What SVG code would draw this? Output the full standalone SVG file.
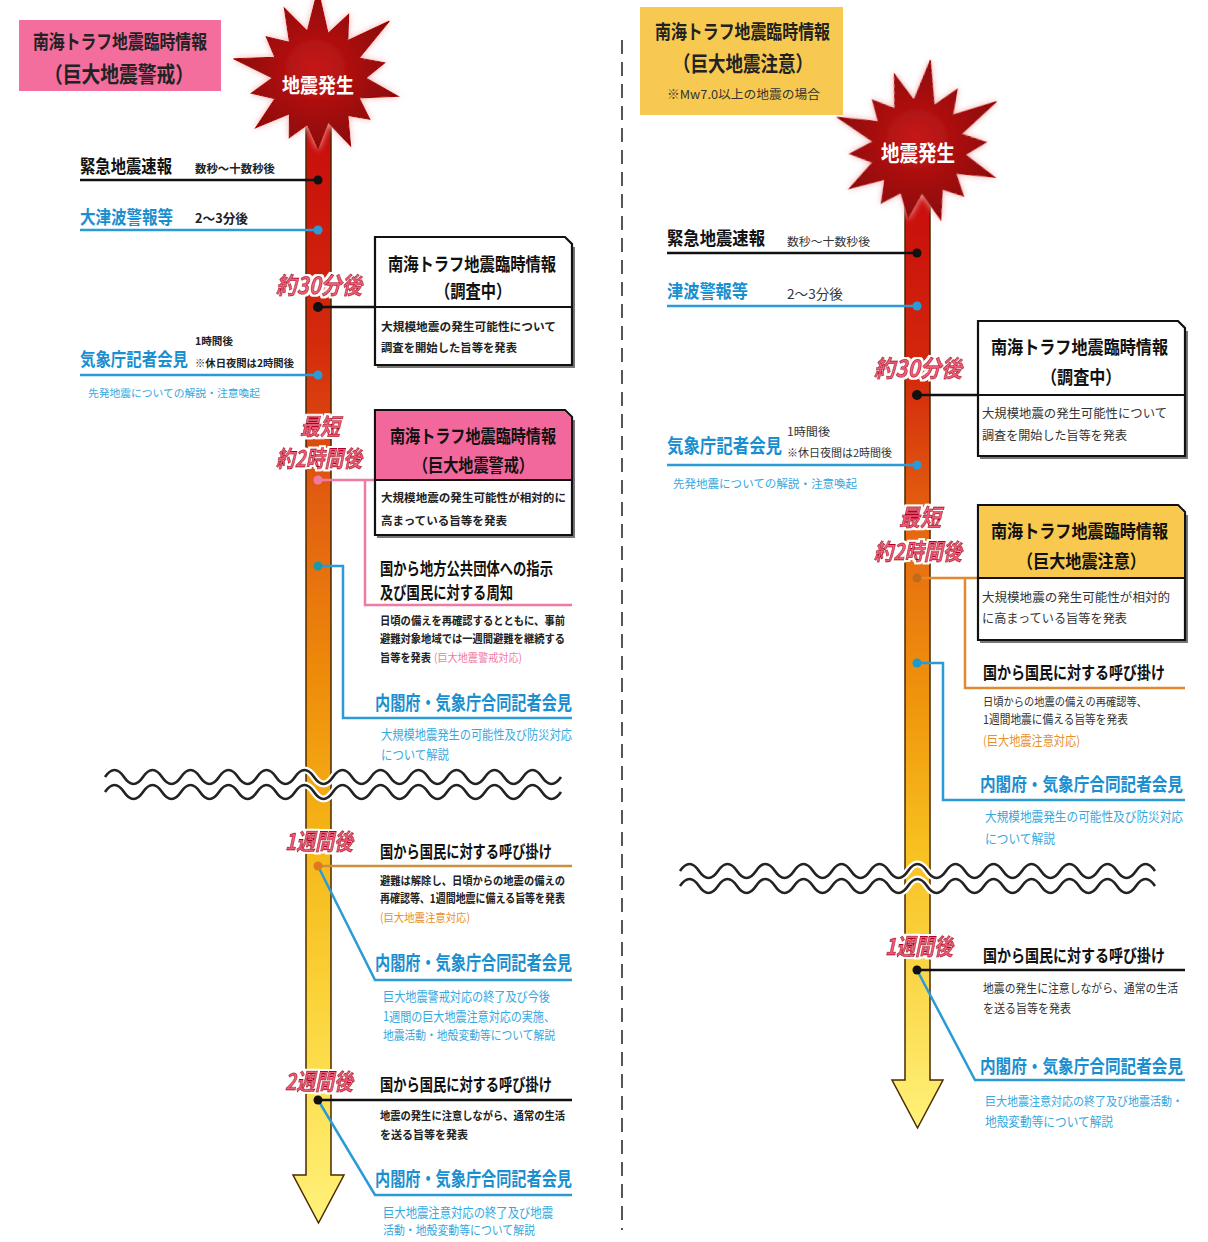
<svg xmlns="http://www.w3.org/2000/svg" width="1208" height="1242" viewBox="0 0 1208 1242">
<style>
text{font-family:"Noto Sans CJK JP","Noto Sans CJK SC",sans-serif;dominant-baseline:central;}
.b{font-weight:bold;}
.big{font-weight:bold;fill:#111;}
.blu{font-weight:bold;fill:#1a8fd0;}
.sm{font-weight:bold;fill:#222;}
.body{font-weight:bold;fill:#222;}
.bodyr{fill:#333;}
.desc{fill:#35a8e0;}
.t{font-weight:bold;font-style:italic;fill:#f05c78;stroke:#b0002a;stroke-width:.7;filter:url(#halo);}
.ln{fill:none;stroke-width:2.5;}
.k{stroke:#111;} .bl{stroke:#2a9bd6;} .pk{stroke:#f07aa5;} .or{stroke:#e0892e;} .br{stroke:#c8903e;}
.box{fill:#fff;stroke:#111;stroke-width:2.2;}
.wave{fill:none;stroke:#222;stroke-width:2.6;}
.waveh{fill:none;stroke:#fff;stroke-width:7;}
</style>
<defs>
<linearGradient id="gL" gradientUnits="userSpaceOnUse" x1="0" y1="120" x2="0" y2="1223">
<stop offset="0" stop-color="#c80c0c"/><stop offset="0.2" stop-color="#d42a0c"/><stop offset="0.35" stop-color="#e26010"/><stop offset="0.5" stop-color="#ee8a0a"/><stop offset="0.65" stop-color="#f5b516"/><stop offset="0.8" stop-color="#fbd43a"/><stop offset="1" stop-color="#fff27a"/>
</linearGradient>
<linearGradient id="gR" gradientUnits="userSpaceOnUse" x1="0" y1="190" x2="0" y2="1128">
<stop offset="0" stop-color="#c80c0c"/><stop offset="0.2" stop-color="#d42a0c"/><stop offset="0.37" stop-color="#e66a10"/><stop offset="0.55" stop-color="#f0960c"/><stop offset="0.7" stop-color="#f7c020"/><stop offset="0.85" stop-color="#fbd84a"/><stop offset="1" stop-color="#fff27a"/>
</linearGradient>
<radialGradient id="gB"><stop offset="0" stop-color="#c81818"/><stop offset="1" stop-color="#8a0606"/></radialGradient>
<filter id="halo" x="-20%" y="-30%" width="140%" height="160%">
<feMorphology in="SourceAlpha" operator="dilate" radius="1.6" result="d"/>
<feFlood flood-color="#fff"/><feComposite in2="d" operator="in" result="w"/>
<feMerge><feMergeNode in="w"/><feMergeNode in="SourceGraphic"/></feMerge>
</filter>
<filter id="glow" x="-20%" y="-20%" width="140%" height="140%">
<feGaussianBlur in="SourceAlpha" stdDeviation="3" result="bl"/>
<feFlood flood-color="#f4b0b0"/><feComposite in2="bl" operator="in" result="g"/>
<feMerge><feMergeNode in="g"/><feMergeNode in="SourceGraphic"/></feMerge>
</filter>
<path id="burst" d="M0,-78 L8.9,-39 L26.9,-55.9 L26.2,-32.8 L62.6,-49.9 L36,-17.4 L58.5,-13.4 L42,0 L70.2,16.1 L36,17.4 L45.4,36.2 L26.2,32.8 L28.6,59.5 L8.9,39 L0,62 L-9.4,41 L-25.2,52.3 L-25,31.3 L-54.7,43.7 L-37.8,18.2 L-58.5,13.4 L-40,0 L-74.1,-16.9 L-37.8,-18.2 L-45.4,-36.2 L-25,-31.3 L-29.5,-61.3 L-9.4,-41 Z"/>
</defs>
<rect width="1208" height="1242" fill="#fff"/>

<line x1="622" y1="40" x2="622" y2="1230" stroke="#555" stroke-width="2" stroke-dasharray="14 8"/>

<!-- ===== LEFT PANEL ===== -->
<g id="left-title">
<rect x="19" y="20" width="202" height="71" fill="#f36d9d"/>
<text class="b" x="33" y="40" font-size="15.8" fill="#222" textLength="174" lengthAdjust="spacingAndGlyphs" transform="translate(0,40) scale(1,1.25) translate(0,-40)">南海トラフ地震臨時情報</text>
<text class="b" x="44" y="72" font-size="18.7" fill="#222" textLength="150" lengthAdjust="spacingAndGlyphs" transform="translate(0,72) scale(1,1.17) translate(0,-72)">（巨大地震警戒）</text>
</g>
<g id="left-timeline">
<path d="M306,120 H331 V1175 H344 L318.5,1223 L293,1175 H306 Z" fill="url(#gL)" stroke="#4a2a00" stroke-width="1.5"/>
</g>
<g id="left-quake">
<use href="#burst" transform="translate(318,78) scale(1.14)" fill="url(#gB)" stroke="#a00" stroke-width="1" filter="url(#glow)"/>
<text class="b" x="318" y="84" font-size="18" fill="#fff" text-anchor="middle" textLength="72" lengthAdjust="spacingAndGlyphs" transform="translate(0,84) scale(1,1.15) translate(0,-84)">地震発生</text>
</g>
<g id="left-waves">
<path class="waveh" d="M105,777 q9.5,-14 19,0 t19,0 t19,0 t19,0 t19,0 t19,0 t19,0 t19,0 t19,0 t19,0 t19,0 t19,0 t19,0 t19,0 t19,0 t19,0 t19,0 t19,0 t19,0 t19,0 t19,0 t19,0 t19,0 t19,0"/>
<path class="waveh" d="M105,792 q9.5,-14 19,0 t19,0 t19,0 t19,0 t19,0 t19,0 t19,0 t19,0 t19,0 t19,0 t19,0 t19,0 t19,0 t19,0 t19,0 t19,0 t19,0 t19,0 t19,0 t19,0 t19,0 t19,0 t19,0 t19,0"/>
<path class="wave" d="M105,777 q9.5,-14 19,0 t19,0 t19,0 t19,0 t19,0 t19,0 t19,0 t19,0 t19,0 t19,0 t19,0 t19,0 t19,0 t19,0 t19,0 t19,0 t19,0 t19,0 t19,0 t19,0 t19,0 t19,0 t19,0 t19,0"/>
<path class="wave" d="M105,792 q9.5,-14 19,0 t19,0 t19,0 t19,0 t19,0 t19,0 t19,0 t19,0 t19,0 t19,0 t19,0 t19,0 t19,0 t19,0 t19,0 t19,0 t19,0 t19,0 t19,0 t19,0 t19,0 t19,0 t19,0 t19,0"/>
</g>

<g id="left-connectors">
<path class="ln k" d="M80,180 H318"/>
<path class="ln bl" d="M80,230 H318"/>
<path class="ln k" d="M318,307 H375" stroke-width="3.5"/>
<path class="ln bl" d="M80,375 H318"/>
<path class="ln pk" d="M318,480 H375 M365,480 V605 H572"/>
<path class="ln bl" d="M318,566 H343 V718 H572"/>
<path class="ln br" d="M318,866 H572"/>
<path class="ln bl" d="M318,866 L375,980 H572" stroke-width="2"/>
<path class="ln k" d="M318,1100 H572"/>
<path class="ln bl" d="M318,1100 L375,1195 H572" stroke-width="2"/>
<circle cx="318" cy="180" r="4.5" fill="#111"/>
<circle cx="318" cy="230" r="4.5" fill="#2a9bd6"/>
<circle cx="318" cy="307" r="5" fill="#111"/>
<circle cx="318" cy="375" r="4.5" fill="#2a9bd6"/>
<circle cx="318" cy="480" r="4.5" fill="#f07aa5"/>
<circle cx="318" cy="566" r="4.5" fill="#1a9aa8"/>
<circle cx="318" cy="866" r="4.5" fill="#e07820"/>
<circle cx="318" cy="1100" r="4.5" fill="#111"/>
</g>

<g id="left-eew">
<text class="big" x="80" y="165" font-size="15.3" textLength="92" lengthAdjust="spacingAndGlyphs" transform="translate(0,165) scale(1,1.2) translate(0,-165)">緊急地震速報</text>
<text class="sm" x="195" y="168" font-size="11.4" textLength="80" lengthAdjust="spacingAndGlyphs">数秒～十数秒後</text>
</g>
<g id="left-tsunami">
<text class="blu" x="80" y="216" font-size="15.5" textLength="93" lengthAdjust="spacingAndGlyphs" transform="translate(0,216) scale(1,1.2) translate(0,-216)">大津波警報等</text>
<text class="sm" x="195" y="217" font-size="13" textLength="53" lengthAdjust="spacingAndGlyphs">2～3分後</text>
</g>
<g id="left-t30"><text class="t" x="319" y="283" font-size="21" text-anchor="middle" textLength="86" lengthAdjust="spacingAndGlyphs" transform="translate(0,283) scale(1,1.12) translate(0,-283)">約30分後</text></g>
<g id="left-box-survey">
<path d="M377,367 H574 V247" fill="none" stroke="#777" stroke-width="2"/>
<path class="box" d="M375,237 H565 L572,244 V365 H375 Z"/>
<line x1="375" y1="307" x2="572" y2="307" stroke="#111" stroke-width="2"/>
<text class="big" x="388" y="263" font-size="15.3" textLength="168" lengthAdjust="spacingAndGlyphs" transform="translate(0,263) scale(1,1.2) translate(0,-263)">南海トラフ地震臨時情報</text>
<text class="big" x="435" y="290" font-size="15.3" transform="translate(0,290) scale(1,1.2) translate(0,-290)">（調査中）</text>
<text class="body" x="381" y="325" font-size="11.7" textLength="175" lengthAdjust="spacingAndGlyphs">大規模地震の発生可能性について</text>
<text class="body" x="381" y="346" font-size="11.7" textLength="136" lengthAdjust="spacingAndGlyphs">調査を開始した旨等を発表</text>
</g>
<g id="left-jma">
<text class="blu" x="80" y="358" font-size="15.4" textLength="108" lengthAdjust="spacingAndGlyphs" transform="translate(0,358) scale(1,1.2) translate(0,-358)">気象庁記者会見</text>
<text class="sm" x="195" y="340" font-size="10.7" textLength="38" lengthAdjust="spacingAndGlyphs">1時間後</text>
<text class="sm" x="195" y="362" font-size="10.4" textLength="99" lengthAdjust="spacingAndGlyphs">※休日夜間は2時間後</text>
<text class="desc" x="88" y="392" font-size="10.75" textLength="172" lengthAdjust="spacingAndGlyphs">先発地震についての解説・注意喚起</text>
</g>
<g id="left-t2h">
<text class="t" x="320" y="425" font-size="20" text-anchor="middle" textLength="40" lengthAdjust="spacingAndGlyphs" transform="translate(0,425) scale(1,1.15) translate(0,-425)">最短</text>
<text class="t" x="319" y="457" font-size="19" text-anchor="middle" textLength="86" lengthAdjust="spacingAndGlyphs" transform="translate(0,457) scale(1,1.2) translate(0,-457)">約2時間後</text>
</g>
<g id="left-box-warning">
<path d="M377,537 H574 V420" fill="none" stroke="#777" stroke-width="2"/>
<path class="box" d="M375,410 H565 L572,417 V535 H375 Z"/>
<path d="M376,411 H564.5 L571,417.5 V480 H376 Z" fill="#f2689c"/>
<line x1="375" y1="480" x2="572" y2="480" stroke="#111" stroke-width="2"/>
<text class="big" x="390" y="435" font-size="15.1" textLength="166" lengthAdjust="spacingAndGlyphs" transform="translate(0,435) scale(1,1.2) translate(0,-435)">南海トラフ地震臨時情報</text>
<text class="big" x="413" y="464" font-size="15.1" textLength="121" lengthAdjust="spacingAndGlyphs" transform="translate(0,464) scale(1,1.2) translate(0,-464)">（巨大地震警戒）</text>
<text class="body" x="381" y="497" font-size="11.5" textLength="185" lengthAdjust="spacingAndGlyphs">大規模地震の発生可能性が相対的に</text>
<text class="body" x="381" y="520" font-size="11.5" textLength="126" lengthAdjust="spacingAndGlyphs">高まっている旨等を発表</text>
</g>
<g id="left-directive">
<text class="big" x="380" y="567" font-size="13.3" textLength="173" lengthAdjust="spacingAndGlyphs" transform="translate(0,567) scale(1,1.28) translate(0,-567)">国から地方公共団体への指示</text>
<text class="big" x="380" y="591" font-size="13.3" textLength="133" lengthAdjust="spacingAndGlyphs" transform="translate(0,591) scale(1,1.28) translate(0,-591)">及び国民に対する周知</text>
<text class="body" x="380" y="620" font-size="10.3" textLength="185" lengthAdjust="spacingAndGlyphs" transform="translate(0,620) scale(1,1.15) translate(0,-620)">日頃の備えを再確認するとともに、事前</text>
<text class="body" x="380" y="638" font-size="10.3" textLength="185" lengthAdjust="spacingAndGlyphs" transform="translate(0,638) scale(1,1.15) translate(0,-638)">避難対象地域では一週間避難を継続する</text>
<text class="body" x="380" y="657" font-size="10.3" textLength="51" lengthAdjust="spacingAndGlyphs" transform="translate(0,657) scale(1,1.15) translate(0,-657)">旨等を発表</text>
<text x="434" y="657" font-size="10" fill="#f07aa5" textLength="88" lengthAdjust="spacingAndGlyphs" transform="translate(0,657) scale(1,1.15) translate(0,-657)">(巨大地震警戒対応)</text>
</g>
<g id="left-joint1">
<text class="blu" x="375" y="702" font-size="15.1" textLength="197" lengthAdjust="spacingAndGlyphs" transform="translate(0,702) scale(1,1.25) translate(0,-702)">内閣府・気象庁合同記者会見</text>
<text class="desc" x="381" y="733" font-size="11.2" textLength="191" lengthAdjust="spacingAndGlyphs" transform="translate(0,733) scale(1,1.12) translate(0,-733)">大規模地震発生の可能性及び防災対応</text>
<text class="desc" x="381" y="753" font-size="11.2" textLength="68" lengthAdjust="spacingAndGlyphs" transform="translate(0,753) scale(1,1.12) translate(0,-753)">について解説</text>
</g>
<g id="left-t1w"><text class="t" x="319" y="840" font-size="19" text-anchor="middle" textLength="68" lengthAdjust="spacingAndGlyphs" transform="translate(0,840) scale(1,1.2) translate(0,-840)">1週間後</text></g>
<g id="left-call1">
<text class="big" x="380" y="850" font-size="13.2" textLength="172" lengthAdjust="spacingAndGlyphs" transform="translate(0,850) scale(1,1.28) translate(0,-850)">国から国民に対する呼び掛け</text>
<text class="body" x="380" y="880" font-size="10.3" textLength="185" lengthAdjust="spacingAndGlyphs" transform="translate(0,880) scale(1,1.15) translate(0,-880)">避難は解除し、日頃からの地震の備えの</text>
<text class="body" x="380" y="898" font-size="10.5" textLength="185" lengthAdjust="spacingAndGlyphs" transform="translate(0,898) scale(1,1.15) translate(0,-898)">再確認等、1週間地震に備える旨等を発表</text>
<text x="380" y="917" font-size="10.3" fill="#e8902a" textLength="90" lengthAdjust="spacingAndGlyphs" transform="translate(0,917) scale(1,1.15) translate(0,-917)">(巨大地震注意対応)</text>
</g>
<g id="left-joint2">
<text class="blu" x="375" y="962" font-size="15.1" textLength="197" lengthAdjust="spacingAndGlyphs" transform="translate(0,962) scale(1,1.25) translate(0,-962)">内閣府・気象庁合同記者会見</text>
<text class="desc" x="383" y="995" font-size="11" textLength="167" lengthAdjust="spacingAndGlyphs" transform="translate(0,995) scale(1,1.15) translate(0,-995)">巨大地震警戒対応の終了及び今後</text>
<text class="desc" x="383" y="1015" font-size="11" textLength="172" lengthAdjust="spacingAndGlyphs" transform="translate(0,1015) scale(1,1.15) translate(0,-1015)">1週間の巨大地震注意対応の実施、</text>
<text class="desc" x="383" y="1035" font-size="10.75" textLength="172" lengthAdjust="spacingAndGlyphs" transform="translate(0,1035) scale(1,1.15) translate(0,-1035)">地震活動・地殻変動等について解説</text>
</g>
<g id="left-t2w"><text class="t" x="319" y="1080" font-size="19" text-anchor="middle" textLength="68" lengthAdjust="spacingAndGlyphs" transform="translate(0,1080) scale(1,1.2) translate(0,-1080)">2週間後</text></g>
<g id="left-call2">
<text class="big" x="380" y="1083" font-size="13.2" textLength="172" lengthAdjust="spacingAndGlyphs" transform="translate(0,1083) scale(1,1.28) translate(0,-1083)">国から国民に対する呼び掛け</text>
<text class="body" x="380" y="1115" font-size="10.3" textLength="185" lengthAdjust="spacingAndGlyphs" transform="translate(0,1115) scale(1,1.15) translate(0,-1115)">地震の発生に注意しながら、通常の生活</text>
<text class="body" x="380" y="1134" font-size="10.3" textLength="88" lengthAdjust="spacingAndGlyphs" transform="translate(0,1134) scale(1,1.15) translate(0,-1134)">を送る旨等を発表</text>
</g>
<g id="left-joint3">
<text class="blu" x="375" y="1178" font-size="15.1" textLength="197" lengthAdjust="spacingAndGlyphs" transform="translate(0,1178) scale(1,1.25) translate(0,-1178)">内閣府・気象庁合同記者会見</text>
<text class="desc" x="383" y="1211" font-size="11.3" textLength="170" lengthAdjust="spacingAndGlyphs" transform="translate(0,1211) scale(1,1.12) translate(0,-1211)">巨大地震注意対応の終了及び地震</text>
<text class="desc" x="383" y="1230" font-size="10.9" textLength="152" lengthAdjust="spacingAndGlyphs" transform="translate(0,1230) scale(1,1.12) translate(0,-1230)">活動・地殻変動等について解説</text>
</g>

<!-- ===== RIGHT PANEL ===== -->
<g id="right-title">
<rect x="640" y="7" width="203" height="108" fill="#f7c950"/>
<text class="b" x="655" y="30" font-size="15.9" fill="#222" textLength="175" lengthAdjust="spacingAndGlyphs" transform="translate(0,30) scale(1,1.25) translate(0,-30)">南海トラフ地震臨時情報</text>
<text class="b" x="673" y="62" font-size="17.5" fill="#222" textLength="140" lengthAdjust="spacingAndGlyphs" transform="translate(0,62) scale(1,1.2) translate(0,-62)">（巨大地震注意）</text>
<text x="667" y="93" font-size="12" fill="#333" textLength="153" lengthAdjust="spacingAndGlyphs">※Mw7.0以上の地震の場合</text>
</g>
<g id="right-timeline">
<path d="M905,190 H930 V1080 H943 L917.5,1128 L892,1080 H905 Z" fill="url(#gR)" stroke="#4a2a00" stroke-width="1.5"/>
</g>
<g id="right-quake">
<use href="#burst" transform="translate(918,148) rotate(8) scale(1.14)" fill="url(#gB)" stroke="#a00" stroke-width="1" filter="url(#glow)"/>
<text class="b" x="918" y="152" font-size="18.5" fill="#fff" text-anchor="middle" textLength="74" lengthAdjust="spacingAndGlyphs" transform="translate(0,152) scale(1,1.15) translate(0,-152)">地震発生</text>
</g>
<g id="right-waves">
<path class="waveh" d="M680,871 q9.5,-14 19,0 t19,0 t19,0 t19,0 t19,0 t19,0 t19,0 t19,0 t19,0 t19,0 t19,0 t19,0 t19,0 t19,0 t19,0 t19,0 t19,0 t19,0 t19,0 t19,0 t19,0 t19,0 t19,0 t19,0 t19,0"/>
<path class="waveh" d="M680,886 q9.5,-14 19,0 t19,0 t19,0 t19,0 t19,0 t19,0 t19,0 t19,0 t19,0 t19,0 t19,0 t19,0 t19,0 t19,0 t19,0 t19,0 t19,0 t19,0 t19,0 t19,0 t19,0 t19,0 t19,0 t19,0 t19,0"/>
<path class="wave" d="M680,871 q9.5,-14 19,0 t19,0 t19,0 t19,0 t19,0 t19,0 t19,0 t19,0 t19,0 t19,0 t19,0 t19,0 t19,0 t19,0 t19,0 t19,0 t19,0 t19,0 t19,0 t19,0 t19,0 t19,0 t19,0 t19,0 t19,0"/>
<path class="wave" d="M680,886 q9.5,-14 19,0 t19,0 t19,0 t19,0 t19,0 t19,0 t19,0 t19,0 t19,0 t19,0 t19,0 t19,0 t19,0 t19,0 t19,0 t19,0 t19,0 t19,0 t19,0 t19,0 t19,0 t19,0 t19,0 t19,0 t19,0"/>
</g>

<g id="right-connectors">
<path class="ln k" d="M667,253 H917"/>
<path class="ln bl" d="M667,306 H917"/>
<path class="ln k" d="M917,395 H978" stroke-width="3.5"/>
<path class="ln bl" d="M667,465 H917"/>
<path class="ln or" d="M917,578 H978 M965,578 V688 H1185"/>
<path class="ln bl" d="M917,663 H943 V800 H1185"/>
<path class="ln k" d="M917,970 H1185" stroke="#444"/>
<path class="ln bl" d="M917,970 L975,1080 H1185" stroke-width="2"/>
<circle cx="917" cy="253" r="4.5" fill="#111"/>
<circle cx="917" cy="306" r="4.5" fill="#2a9bd6"/>
<circle cx="917" cy="395" r="5" fill="#111"/>
<circle cx="917" cy="465" r="4.5" fill="#2a9bd6"/>
<circle cx="917" cy="578" r="4.5" fill="#c06a1a"/>
<circle cx="917" cy="663" r="4.5" fill="#1a9ad0"/>
<circle cx="917" cy="970" r="4.5" fill="#111"/>
</g>

<g id="right-eew">
<text class="big" x="667" y="237" font-size="16.3" textLength="98" lengthAdjust="spacingAndGlyphs" transform="translate(0,237) scale(1,1.15) translate(0,-237)">緊急地震速報</text>
<text x="787" y="240" font-size="11.8" fill="#333" textLength="83" lengthAdjust="spacingAndGlyphs">数秒～十数秒後</text>
</g>
<g id="right-tsunami">
<text class="blu" x="667" y="290" font-size="16.2" font-weight="normal" textLength="81" lengthAdjust="spacingAndGlyphs" transform="translate(0,290) scale(1,1.15) translate(0,-290)">津波警報等</text>
<text x="787" y="293" font-size="13.6" fill="#333" textLength="56" lengthAdjust="spacingAndGlyphs">2～3分後</text>
</g>
<g id="right-t30"><text class="t" x="918" y="366" font-size="21" text-anchor="middle" textLength="88" lengthAdjust="spacingAndGlyphs" transform="translate(0,366) scale(1,1.12) translate(0,-366)">約30分後</text></g>
<g id="right-box-survey">
<path d="M980,458 H1187 V331" fill="none" stroke="#777" stroke-width="2"/>
<path class="box" d="M978,321 H1178 L1185,328 V456 H978 Z"/>
<line x1="978" y1="395" x2="1185" y2="395" stroke="#111" stroke-width="2"/>
<text class="big" x="991" y="346" font-size="16.1" textLength="177" lengthAdjust="spacingAndGlyphs" transform="translate(0,346) scale(1,1.15) translate(0,-346)">南海トラフ地震臨時情報</text>
<text class="big" x="1041" y="376" font-size="16.1" transform="translate(0,376) scale(1,1.15) translate(0,-376)">（調査中）</text>
<text class="bodyr" x="982" y="413" font-size="12.3" textLength="185" lengthAdjust="spacingAndGlyphs">大規模地震の発生可能性について</text>
<text class="bodyr" x="982" y="435" font-size="12.3" textLength="145" lengthAdjust="spacingAndGlyphs">調査を開始した旨等を発表</text>
</g>
<g id="right-jma">
<text class="blu" x="667" y="445" font-size="16.4" font-weight="normal" textLength="115" lengthAdjust="spacingAndGlyphs" transform="translate(0,445) scale(1,1.15) translate(0,-445)">気象庁記者会見</text>
<text x="787" y="431" font-size="11.5" fill="#333" textLength="43" lengthAdjust="spacingAndGlyphs">1時間後</text>
<text x="787" y="452" font-size="11" fill="#333" textLength="105" lengthAdjust="spacingAndGlyphs">※休日夜間は2時間後</text>
<text class="desc" x="673" y="483" font-size="11.5" textLength="184" lengthAdjust="spacingAndGlyphs">先発地震についての解説・注意喚起</text>
</g>
<g id="right-t2h">
<text class="t" x="920" y="515" font-size="21" text-anchor="middle" textLength="42" lengthAdjust="spacingAndGlyphs" transform="translate(0,515) scale(1,1.12) translate(0,-515)">最短</text>
<text class="t" x="918" y="550" font-size="19.3" text-anchor="middle" textLength="88" lengthAdjust="spacingAndGlyphs" transform="translate(0,550) scale(1,1.18) translate(0,-550)">約2時間後</text>
</g>
<g id="right-box-advisory">
<path d="M980,642 H1187 V515" fill="none" stroke="#777" stroke-width="2"/>
<path class="box" d="M978,505 H1178 L1185,512 V640 H978 Z"/>
<path d="M979,506 H1177.5 L1184,512.5 V578 H979 Z" fill="#f8c94e"/>
<line x1="978" y1="578" x2="1185" y2="578" stroke="#111" stroke-width="2"/>
<text class="big" x="991" y="530" font-size="16.1" textLength="177" lengthAdjust="spacingAndGlyphs" transform="translate(0,530) scale(1,1.15) translate(0,-530)">南海トラフ地震臨時情報</text>
<text class="big" x="1017" y="560" font-size="16.1" textLength="129" lengthAdjust="spacingAndGlyphs" transform="translate(0,560) scale(1,1.15) translate(0,-560)">（巨大地震注意）</text>
<text class="bodyr" x="982" y="597" font-size="12.4" textLength="188" lengthAdjust="spacingAndGlyphs">大規模地震の発生可能性が相対的</text>
<text class="bodyr" x="982" y="618" font-size="12.2" textLength="145" lengthAdjust="spacingAndGlyphs">に高まっている旨等を発表</text>
</g>
<g id="right-call1">
<text class="big" x="983" y="672" font-size="14" font-weight="normal" textLength="182" lengthAdjust="spacingAndGlyphs" transform="translate(0,672) scale(1,1.25) translate(0,-672)">国から国民に対する呼び掛け</text>
<text class="bodyr" x="983" y="701" font-size="10.3" textLength="164" lengthAdjust="spacingAndGlyphs" transform="translate(0,701) scale(1,1.15) translate(0,-701)">日頃からの地震の備えの再確認等、</text>
<text class="bodyr" x="983" y="719" font-size="10.7" textLength="145" lengthAdjust="spacingAndGlyphs" transform="translate(0,719) scale(1,1.15) translate(0,-719)">1週間地震に備える旨等を発表</text>
<text x="983" y="739" font-size="11" fill="#e8902a" textLength="97" lengthAdjust="spacingAndGlyphs" transform="translate(0,739) scale(1,1.15) translate(0,-739)">(巨大地震注意対応)</text>
</g>
<g id="right-joint1">
<text class="blu" x="980" y="783" font-size="15.6" font-weight="normal" textLength="203" lengthAdjust="spacingAndGlyphs" transform="translate(0,783) scale(1,1.2) translate(0,-783)">内閣府・気象庁合同記者会見</text>
<text class="desc" x="985" y="816" font-size="11.6" textLength="198" lengthAdjust="spacingAndGlyphs" transform="translate(0,816) scale(1,1.12) translate(0,-816)">大規模地震発生の可能性及び防災対応</text>
<text class="desc" x="985" y="838" font-size="11.6" textLength="70" lengthAdjust="spacingAndGlyphs" transform="translate(0,838) scale(1,1.12) translate(0,-838)">について解説</text>
</g>
<g id="right-t1w"><text class="t" x="919" y="945" font-size="19" text-anchor="middle" textLength="68" lengthAdjust="spacingAndGlyphs" transform="translate(0,945) scale(1,1.2) translate(0,-945)">1週間後</text></g>
<g id="right-call2">
<text class="big" x="983" y="955" font-size="14" font-weight="normal" textLength="182" lengthAdjust="spacingAndGlyphs" transform="translate(0,955) scale(1,1.25) translate(0,-955)">国から国民に対する呼び掛け</text>
<text class="bodyr" x="983" y="988" font-size="10.8" textLength="195" lengthAdjust="spacingAndGlyphs" transform="translate(0,988) scale(1,1.15) translate(0,-988)">地震の発生に注意しながら、通常の生活</text>
<text class="bodyr" x="983" y="1008" font-size="10.8" textLength="88" lengthAdjust="spacingAndGlyphs" transform="translate(0,1008) scale(1,1.15) translate(0,-1008)">を送る旨等を発表</text>
</g>
<g id="right-joint2">
<text class="blu" x="980" y="1065" font-size="15.6" font-weight="normal" textLength="203" lengthAdjust="spacingAndGlyphs" transform="translate(0,1065) scale(1,1.2) translate(0,-1065)">内閣府・気象庁合同記者会見</text>
<text class="desc" x="985" y="1100" font-size="11" textLength="198" lengthAdjust="spacingAndGlyphs" transform="translate(0,1100) scale(1,1.12) translate(0,-1100)">巨大地震注意対応の終了及び地震活動・</text>
<text class="desc" x="985" y="1120" font-size="11.2" textLength="128" lengthAdjust="spacingAndGlyphs" transform="translate(0,1120) scale(1,1.12) translate(0,-1120)">地殻変動等について解説</text>
</g>
</svg>
